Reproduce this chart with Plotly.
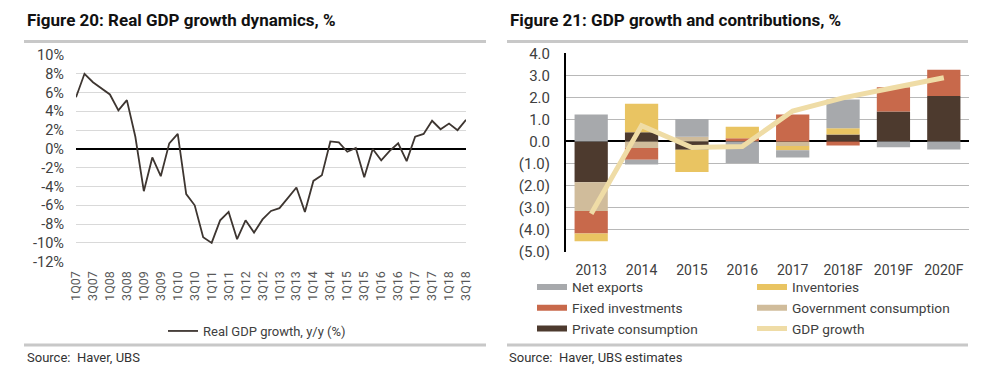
import plotly.graph_objects as go

# The page has an 8px body margin, so the figure is drawn inside it.
OFF = 8
FW, FH = 974, 370

# ---------------- Figure 20 data ----------------
quarters = ["1Q07", "2Q07", "3Q07", "4Q07", "1Q08", "2Q08", "3Q08", "4Q08",
            "1Q09", "2Q09", "3Q09", "4Q09", "1Q10", "2Q10", "3Q10", "4Q10",
            "1Q11", "2Q11", "3Q11", "4Q11", "1Q12", "2Q12", "3Q12", "4Q12",
            "1Q13", "2Q13", "3Q13", "4Q13", "1Q14", "2Q14", "3Q14", "4Q14",
            "1Q15", "2Q15", "3Q15", "4Q15", "1Q16", "2Q16", "3Q16", "4Q16",
            "1Q17", "2Q17", "3Q17", "4Q17", "1Q18", "2Q18", "3Q18"]
gdp_yy = [5.5, 8.0, 7.1, 6.4, 5.8, 4.1, 5.2, 1.3, -4.5, -0.9, -2.9, 0.6, 1.6,
          -4.8, -6.0, -9.4, -10.0, -7.6, -6.7, -9.6, -7.6, -8.9, -7.5, -6.6,
          -6.3, -5.2, -4.1, -6.7, -3.4, -2.8, 0.8, 0.7, -0.3, 0.1, -3.0, 0.0,
          -1.2, -0.2, 0.6, -1.3, 1.3, 1.6, 3.0, 2.1, 2.7, 2.0, 3.1]
q_tick_labels = ["1Q07", "3Q07", "1Q08", "3Q08", "1Q09", "3Q09", "1Q10", "3Q10",
                 "1Q11", "3Q11", "1Q12", "3Q12", "1Q13", "3Q13", "1Q14", "3Q14",
                 "1Q15", "3Q15", "1Q16", "3Q16", "1Q17", "3Q17", "1Q18", "3Q18"]
pct_ticks = [-12, -10, -8, -6, -4, -2, 0, 2, 4, 6, 8, 10]
pct_tick_labels = ["-12%", "-10%", "-8%", "-6%", "-4%", "-2%", "0%", "2%", "4%", "6%", "8%", "10%"]

# ---------------- Figure 21 data ----------------
years = ["2013", "2014", "2015", "2016", "2017", "2018F", "2019F", "2020F"]
private_cons = [-1.85, 0.42, -0.38, 0.0, 0.0, 0.32, 1.36, 2.06]
gov_cons = [-1.30, -0.30, 0.22, 0.0, -0.20, 0.0, 0.0, 0.0]
fixed_inv = [-1.03, -0.53, 0.0, 0.15, 1.22, -0.18, 1.10, 1.19]
inventories = [-0.35, 1.29, -1.00, 0.52, -0.20, 0.28, 0.0, 0.0]
net_exports = [1.22, -0.21, 0.80, -0.98, -0.33, 1.30, -0.26, -0.36]
gdp_growth = [-3.28, 0.72, -0.27, -0.23, 1.38, 1.98, 2.44, 2.89]
contrib_ticks = [-5, -4, -3, -2, -1, 0, 1, 2, 3, 4]
contrib_tick_labels = ["(5.0)", "(4.0)", "(3.0)", "(2.0)", "(1.0)", "0.0", "1.0", "2.0", "3.0", "4.0"]

C_NET = "#A7A9AC"
C_INV = "#E9C462"
C_FIX = "#C8694B"
C_GOV = "#D0BC9B"
C_PRIV = "#4D3A2E"
C_GDP = "#EFDCA6"
C_LINE = "#3E3631"

FONT = "Roboto"
TXT = "#404040"

fig = go.Figure()

# Left chart line
fig.add_trace(go.Scatter(x=quarters, y=gdp_yy, mode="lines",
                         line=dict(color=C_LINE, width=1.8),
                         name="Real GDP growth, y/y (%)",
                         xaxis="x", yaxis="y", legend="legend"))

# Right chart stacked bars (stack order)
bar_series = [("Private consumption", private_cons, C_PRIV),
              ("Government consumption", gov_cons, C_GOV),
              ("Fixed investments", fixed_inv, C_FIX),
              ("Inventories", inventories, C_INV),
              ("Net exports", net_exports, C_NET)]
for name, vals, col in bar_series:
    fig.add_trace(go.Bar(x=years, y=vals, name=name, marker=dict(color=col, line=dict(width=0)),
                         width=0.66, xaxis="x2", yaxis="y2", showlegend=False,
                         legendgroup=name))

# Legend entries (wide swatches), two columns like the reference
legend_cols = [("Net exports", C_NET, "legend2"), ("Fixed investments", C_FIX, "legend2"),
               ("Private consumption", C_PRIV, "legend2"), ("Inventories", C_INV, "legend3"),
               ("Government consumption", C_GOV, "legend3")]
for name, col, lg in legend_cols:
    fig.add_trace(go.Scatter(x=[None], y=[None], mode="lines", name=name,
                             line=dict(color=col, width=6), legendgroup=name,
                             xaxis="x2", yaxis="y2", legend=lg))

fig.add_trace(go.Scatter(x=years, y=gdp_growth, mode="lines", name="GDP growth",
                         line=dict(color=C_GDP, width=5),
                         xaxis="x2", yaxis="y2", legend="legend3"))


def py(px):
    return 1 - (px - OFF) / FH


def pxx(px):
    return (px - OFF) / FW


LEG_FONT = 13.7
fig.update_layout(
    width=FW, height=FH,
    margin=dict(l=0, r=0, t=0, b=0, autoexpand=False),
    paper_bgcolor="white", plot_bgcolor="white",
    font=dict(family=FONT, color=TXT),
    barmode="relative",
    xaxis=dict(domain=[pxx(76), pxx(466)], anchor="y", type="category",
               range=[0, 46], tickmode="array", tickvals=q_tick_labels, ticktext=q_tick_labels,
               tickangle=-90, tickfont=dict(size=12.5, color="#595959"),
               showgrid=False, zeroline=False, showline=False, ticks="",
               ticklabelstandoff=6, automargin=False),
    yaxis=dict(domain=[py(261.7), py(55)], anchor="x", range=[-12, 10],
               tickmode="array", tickvals=pct_ticks, ticktext=pct_tick_labels,
               tickfont=dict(size=14.5, color=TXT), showgrid=True, gridcolor="#d9d9d9",
               gridwidth=1, zeroline=True, zerolinecolor="black", zerolinewidth=2,
               showline=False, ticks="", ticklabelstandoff=11, automargin=False),
    xaxis2=dict(domain=[pxx(566), pxx(969)], anchor="y2", type="category",
                range=[-0.5, 7.5], tickfont=dict(size=14, color=TXT),
                showgrid=False, zeroline=False, showline=False, ticks="",
                ticklabelstandoff=8, automargin=False),
    yaxis2=dict(domain=[py(251.7), py(53.3)], anchor="x2", range=[-5, 4],
                tickmode="array", tickvals=contrib_ticks, ticktext=contrib_tick_labels,
                tickfont=dict(size=15, color=TXT), showgrid=True, gridcolor="#b8b8b8",
                gridwidth=1, zeroline=True, zerolinecolor="black", zerolinewidth=2,
                showline=True, linecolor="black", linewidth=2, ticks="",
                ticklabelstandoff=11, automargin=False),
    legend=dict(orientation="v", x=pxx(163), xanchor="left", y=py(331), yanchor="middle",
                font=dict(size=13, color=TXT), bgcolor="rgba(0,0,0,0)"),
    legend2=dict(orientation="v", x=pxx(532), xanchor="left", y=py(271.5), yanchor="top",
                 font=dict(size=LEG_FONT, color=TXT), bgcolor="rgba(0,0,0,0)",
                 tracegroupgap=0),
    legend3=dict(orientation="v", x=pxx(752), xanchor="left", y=py(271.5), yanchor="top",
                 font=dict(size=LEG_FONT, color=TXT), bgcolor="rgba(0,0,0,0)",
                 tracegroupgap=0),
    showlegend=True,
)

# Titles and sources
fig.add_annotation(text="<b>Figure 20: Real GDP growth dynamics, %</b>", xref="paper", yref="paper",
                   x=pxx(25), y=py(20), xanchor="left", yanchor="middle", showarrow=False,
                   font=dict(size=17, color="#111111", family=FONT))
fig.add_annotation(text="<b>Figure 21: GDP growth and contributions, %</b>", xref="paper", yref="paper",
                   x=pxx(508), y=py(20), xanchor="left", yanchor="middle", showarrow=False,
                   font=dict(size=17, color="#111111", family=FONT))
fig.add_annotation(text="Source:  Haver, UBS", xref="paper", yref="paper",
                   x=pxx(25), y=py(357), xanchor="left", yanchor="middle", showarrow=False,
                   font=dict(size=13, color="#333333", family=FONT))
fig.add_annotation(text="Source:  Haver, UBS estimates", xref="paper", yref="paper",
                   x=pxx(507), y=py(357), xanchor="left", yanchor="middle", showarrow=False,
                   font=dict(size=13, color="#333333", family=FONT))

# Separator rules
for x0, x1 in [(24, 486), (507, 968)]:
    for yy in (41.5, 345):
        fig.add_shape(type="line", xref="paper", yref="paper",
                      x0=pxx(x0), x1=pxx(x1), y0=py(yy), y1=py(yy),
                      line=dict(color="#c8c8c8", width=3), layer="above")

fig.write_html("out.html")
